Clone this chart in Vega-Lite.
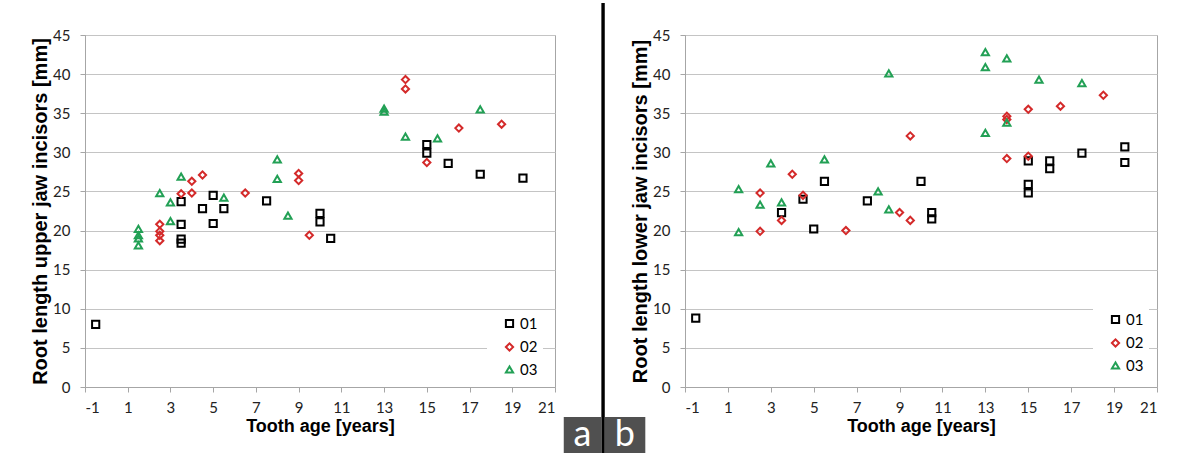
{
  "$schema": "https://vega.github.io/schema/vega-lite/v6.json",
  "background": "white",
  "padding": {"left": 30, "top": 0, "right": 0, "bottom": 0},
  "bounds": "flush",
  "spacing": 130,
  "config": {
    "view": {"stroke": "#a6a6a6", "strokeWidth": 1},
    "axis": {
      "labelFont": "Lato", "labelFontSize": 15, "labelColor": "#222222",
      "titleFont": "Liberation Sans", "titleFontWeight": "bold", "titleColor": "#000000",
      "domainColor": "#a6a6a6", "tickColor": "#a6a6a6", "gridColor": "#c4c4c4",
      "tickSize": 5, "labelOverlap": false, "labelExpr": "'' + datum.value"
    },
    "axisX": {"values": [-1, 1, 3, 5, 7, 9, 11, 13, 15, 17, 19, 21], "grid": false, "titleFontSize": 18, "labelPadding": 8, "titlePadding": 2},
    "axisY": {"values": [0, 5, 10, 15, 20, 25, 30, 35, 40, 45], "tickCount": 10, "grid": true, "titleFontSize": 20, "labelPadding": 10, "titlePadding": 2},
    "legend": {
      "fillColor": "white", "padding": 5, "symbolOffset": 10,
      "labelFont": "Lato", "labelFontSize": 15, "labelColor": "#000000",
      "rowPadding": 6.5, "symbolStrokeWidth": 2, "symbolSize": 52, "labelOffset": 3
    }
  },
  "datasets": {
    "upper": [
      {"series": "01", "age": -0.5, "length": 8.0},
      {"series": "01", "age": 3.5, "length": 23.7},
      {"series": "01", "age": 3.5, "length": 20.8},
      {"series": "01", "age": 3.5, "length": 18.9},
      {"series": "01", "age": 3.5, "length": 18.4},
      {"series": "01", "age": 4.5, "length": 22.8},
      {"series": "01", "age": 5.0, "length": 24.5},
      {"series": "01", "age": 5.0, "length": 20.9},
      {"series": "01", "age": 5.5, "length": 22.8},
      {"series": "01", "age": 7.5, "length": 23.8},
      {"series": "01", "age": 10.0, "length": 22.2},
      {"series": "01", "age": 10.0, "length": 21.1},
      {"series": "01", "age": 10.5, "length": 19.0},
      {"series": "01", "age": 15.0, "length": 31.0},
      {"series": "01", "age": 15.0, "length": 29.9},
      {"series": "01", "age": 16.0, "length": 28.6},
      {"series": "01", "age": 17.5, "length": 27.2},
      {"series": "01", "age": 19.5, "length": 26.7},
      {"series": "02", "age": 2.5, "length": 20.8},
      {"series": "02", "age": 2.5, "length": 19.9},
      {"series": "02", "age": 2.5, "length": 19.4},
      {"series": "02", "age": 2.5, "length": 18.7},
      {"series": "02", "age": 3.5, "length": 24.7},
      {"series": "02", "age": 4.0, "length": 26.3},
      {"series": "02", "age": 4.0, "length": 24.8},
      {"series": "02", "age": 4.5, "length": 27.1},
      {"series": "02", "age": 6.5, "length": 24.8},
      {"series": "02", "age": 9.0, "length": 27.3},
      {"series": "02", "age": 9.0, "length": 26.4},
      {"series": "02", "age": 9.5, "length": 19.4},
      {"series": "02", "age": 14.0, "length": 39.3},
      {"series": "02", "age": 14.0, "length": 38.1},
      {"series": "02", "age": 15.0, "length": 28.7},
      {"series": "02", "age": 16.5, "length": 33.1},
      {"series": "02", "age": 18.5, "length": 33.6},
      {"series": "03", "age": 1.5, "length": 20.2},
      {"series": "03", "age": 1.5, "length": 19.4},
      {"series": "03", "age": 1.5, "length": 19.0},
      {"series": "03", "age": 1.5, "length": 18.1},
      {"series": "03", "age": 2.5, "length": 24.8},
      {"series": "03", "age": 3.0, "length": 23.6},
      {"series": "03", "age": 3.0, "length": 21.2},
      {"series": "03", "age": 3.5, "length": 26.9},
      {"series": "03", "age": 5.5, "length": 24.2},
      {"series": "03", "age": 8.0, "length": 29.1},
      {"series": "03", "age": 8.0, "length": 26.6},
      {"series": "03", "age": 8.5, "length": 21.9},
      {"series": "03", "age": 13.0, "length": 35.6},
      {"series": "03", "age": 13.0, "length": 35.2},
      {"series": "03", "age": 14.0, "length": 32.0},
      {"series": "03", "age": 15.5, "length": 31.8},
      {"series": "03", "age": 17.5, "length": 35.5}
    ],
    "lower": [
      {"series": "01", "age": -0.5, "length": 8.8},
      {"series": "01", "age": 3.5, "length": 22.3},
      {"series": "01", "age": 4.5, "length": 24.0},
      {"series": "01", "age": 5.0, "length": 20.2},
      {"series": "01", "age": 5.5, "length": 26.3},
      {"series": "01", "age": 7.5, "length": 23.8},
      {"series": "01", "age": 10.0, "length": 26.3},
      {"series": "01", "age": 10.5, "length": 22.3},
      {"series": "01", "age": 10.5, "length": 21.5},
      {"series": "01", "age": 15.0, "length": 28.9},
      {"series": "01", "age": 15.0, "length": 25.9},
      {"series": "01", "age": 15.0, "length": 24.8},
      {"series": "01", "age": 16.0, "length": 28.9},
      {"series": "01", "age": 16.0, "length": 27.9},
      {"series": "01", "age": 17.5, "length": 29.9},
      {"series": "01", "age": 19.5, "length": 30.7},
      {"series": "01", "age": 19.5, "length": 28.7},
      {"series": "02", "age": 2.5, "length": 24.8},
      {"series": "02", "age": 2.5, "length": 19.9},
      {"series": "02", "age": 3.5, "length": 21.3},
      {"series": "02", "age": 4.0, "length": 27.2},
      {"series": "02", "age": 4.5, "length": 24.5},
      {"series": "02", "age": 6.5, "length": 20.0},
      {"series": "02", "age": 9.0, "length": 22.3},
      {"series": "02", "age": 9.5, "length": 32.1},
      {"series": "02", "age": 9.5, "length": 21.3},
      {"series": "02", "age": 14.0, "length": 34.6},
      {"series": "02", "age": 14.0, "length": 34.2},
      {"series": "02", "age": 14.0, "length": 29.2},
      {"series": "02", "age": 15.0, "length": 35.5},
      {"series": "02", "age": 15.0, "length": 29.5},
      {"series": "02", "age": 16.5, "length": 35.9},
      {"series": "02", "age": 18.5, "length": 37.3},
      {"series": "03", "age": 1.5, "length": 25.3},
      {"series": "03", "age": 1.5, "length": 19.8},
      {"series": "03", "age": 2.5, "length": 23.3},
      {"series": "03", "age": 3.0, "length": 28.6},
      {"series": "03", "age": 3.5, "length": 23.6},
      {"series": "03", "age": 5.5, "length": 29.1},
      {"series": "03", "age": 8.0, "length": 25.0},
      {"series": "03", "age": 8.5, "length": 40.1},
      {"series": "03", "age": 8.5, "length": 22.7},
      {"series": "03", "age": 13.0, "length": 42.8},
      {"series": "03", "age": 13.0, "length": 40.9},
      {"series": "03", "age": 13.0, "length": 32.5},
      {"series": "03", "age": 14.0, "length": 42.0},
      {"series": "03", "age": 14.0, "length": 33.8},
      {"series": "03", "age": 15.5, "length": 39.3},
      {"series": "03", "age": 17.5, "length": 38.85}
    ],
    "panelLabels": [
      {"label": "x"}
    ]
  },
  "resolve": {
    "scale": {"shape": "independent", "color": "independent"},
    "legend": {"shape": "independent", "color": "independent"}
  },
  "hconcat": [
    {
      "width": 470,
      "height": 352,
      "layer": [
        {
          "data": {"name": "upper"},
          "mark": {"type": "point", "filled": false, "strokeWidth": 2, "size": 52, "opacity": 1},
          "encoding": {
            "x": {
              "field": "age", "type": "quantitative",
              "scale": {"domain": [-1, 21], "nice": false, "zero": false},
              "axis": {"title": "Tooth age [years]", "values": [-1, 1, 3, 5, 7, 9, 11, 13, 15, 17, 19, 21]}
            },
            "y": {
              "field": "length", "type": "quantitative",
              "scale": {"domain": [0, 45], "nice": false},
              "axis": {"title": "Root length upper jaw incisors [mm]"}
            },
            "shape": {
              "field": "series", "type": "nominal",
              "scale": {"domain": ["01", "02", "03"], "range": ["square", "diamond", "triangle-up"]},
              "legend": {"title": null, "orient": "none", "legendX": 402, "legendY": 276}
            },
            "color": {
              "field": "series", "type": "nominal",
              "scale": {"domain": ["01", "02", "03"], "range": ["#000000", "#d42a2a", "#22a055"]},
              "legend": {"title": null, "orient": "none", "legendX": 402, "legendY": 276}
            }
          }
        },
        {
          "data": {"name": "panelLabels"},
          "mark": {"type": "rule", "color": "#000000", "strokeWidth": 3.4},
          "encoding": {
            "x": {"datum": 23.25, "axis": {"title": "Tooth age [years]", "values": [-1, 1, 3, 5, 7, 9, 11, 13, 15, 17, 19, 21]}},
            "y": {"datum": 49.1, "axis": {"title": "Root length upper jaw incisors [mm]"}},
            "y2": {"datum": -8.44}
          }
        },
        {
          "data": {"name": "panelLabels"},
          "mark": {"type": "rect", "color": "#505050"},
          "encoding": {
            "x": {"datum": 21.41, "axis": {"title": "Tooth age [years]", "values": [-1, 1, 3, 5, 7, 9, 11, 13, 15, 17, 19, 21]}},
            "x2": {"datum": 23.17},
            "y": {"datum": -3.84, "axis": {"title": "Root length upper jaw incisors [mm]"}},
            "y2": {"datum": -8.44}
          }
        },
        {
          "data": {"name": "panelLabels"},
          "mark": {"type": "text", "color": "white", "font": "Lato", "fontSize": 36, "align": "center", "baseline": "alphabetic"},
          "encoding": {
            "x": {"datum": 22.29, "axis": {"title": "Tooth age [years]", "values": [-1, 1, 3, 5, 7, 9, 11, 13, 15, 17, 19, 21]}},
            "y": {"datum": -7.5, "axis": {"title": "Root length upper jaw incisors [mm]"}},
            "text": {"value": "a"}
          }
        }
      ]
    },
    {
      "width": 472,
      "height": 352,
      "layer": [
        {
          "data": {"name": "lower"},
          "mark": {"type": "point", "filled": false, "strokeWidth": 2, "size": 52, "opacity": 1},
          "encoding": {
            "x": {
              "field": "age", "type": "quantitative",
              "scale": {"domain": [-1, 21], "nice": false, "zero": false},
              "axis": {"title": "Tooth age [years]", "values": [-1, 1, 3, 5, 7, 9, 11, 13, 15, 17, 19, 21]}
            },
            "y": {
              "field": "length", "type": "quantitative",
              "scale": {"domain": [0, 45], "nice": false},
              "axis": {"title": "Root length lower jaw incisors [mm]"}
            },
            "shape": {
              "field": "series", "type": "nominal",
              "scale": {"domain": ["01", "02", "03"], "range": ["square", "diamond", "triangle-up"]},
              "legend": {"title": null, "orient": "none", "legendX": 408, "legendY": 272}
            },
            "color": {
              "field": "series", "type": "nominal",
              "scale": {"domain": ["01", "02", "03"], "range": ["#000000", "#d42a2a", "#22a055"]},
              "legend": {"title": null, "orient": "none", "legendX": 408, "legendY": 272}
            }
          }
        },
        {
          "data": {"name": "panelLabels"},
          "mark": {"type": "rect", "color": "#505050"},
          "encoding": {
            "x": {"datum": -4.74, "axis": {"title": "Tooth age [years]", "values": [-1, 1, 3, 5, 7, 9, 11, 13, 15, 17, 19, 21]}},
            "x2": {"datum": -2.85},
            "y": {"datum": -3.84, "axis": {"title": "Root length lower jaw incisors [mm]"}},
            "y2": {"datum": -8.44}
          }
        },
        {
          "data": {"name": "panelLabels"},
          "mark": {"type": "text", "color": "white", "font": "Lato", "fontSize": 36, "align": "center", "baseline": "alphabetic"},
          "encoding": {
            "x": {"datum": -3.8, "axis": {"title": "Tooth age [years]", "values": [-1, 1, 3, 5, 7, 9, 11, 13, 15, 17, 19, 21]}},
            "y": {"datum": -7.5, "axis": {"title": "Root length lower jaw incisors [mm]"}},
            "text": {"value": "b"}
          }
        }
      ]
    }
  ]
}
